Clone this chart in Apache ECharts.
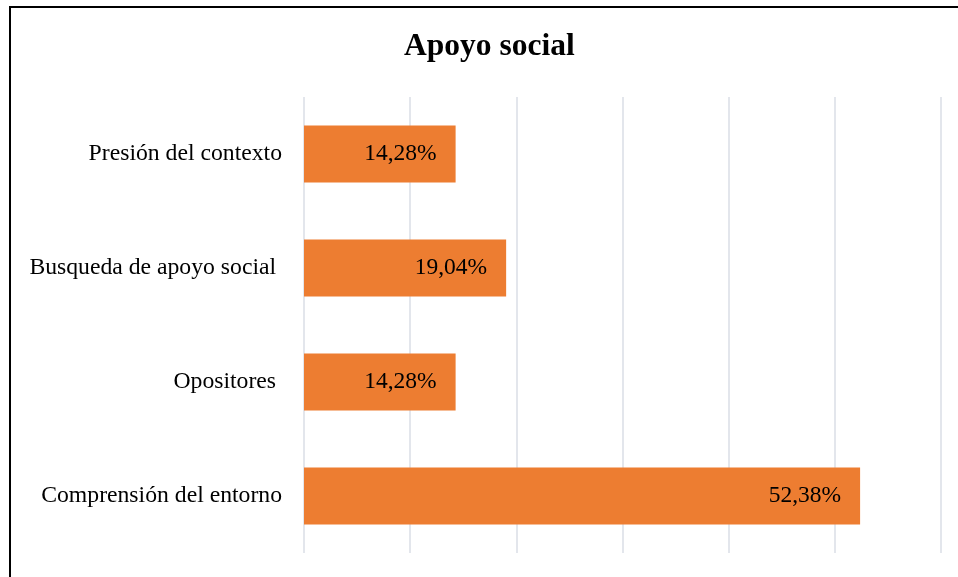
<!DOCTYPE html>
<html>
<head>
<meta charset="utf-8">
<script src="https://cdn.jsdelivr.net/npm/echarts@6/dist/echarts.min.js"></script>
<style>
html,body{margin:0;padding:0;background:#fff;}
#chart{width:958px;height:577px;}
</style>
</head>
<body>
<div id="chart"></div>
<script>
const titleText = "Apoyo social";
const categories = ["Presión del contexto", "Busqueda de apoyo social ", "Opositores ", "Comprensión del entorno"];
const values = [14.28, 19.04, 14.28, 52.38];
const valueLabels = ["14,28%", "19,04%", "14,28%", "52,38%"];

const chart = echarts.init(document.getElementById('chart'), null, {renderer: 'canvas'});
const serif = '"Liberation Serif", "Times New Roman", serif';
chart.setOption({
  animation: false,
  backgroundColor: '#ffffff',
  title: {
    text: titleText,
    left: 404,
    top: 31,
    padding: 0,
    textStyle: {fontFamily: serif, fontWeight: 'bold', fontSize: 31.5, color: '#000'}
  },
  graphic: [{
    type: 'rect',
    shape: {x: 10, y: 7, width: 1000, height: 700},
    style: {fill: 'none', stroke: '#000', lineWidth: 2},
    silent: true
  }],
  grid: {left: 304, right: 17, top: 97, bottom: 24, containLabel: false},
  xAxis: {
    type: 'value', min: 0, max: 60, interval: 10,
    axisLabel: {show: false}, axisLine: {show: false}, axisTick: {show: false},
    splitLine: {show: true, lineStyle: {color: '#dadee6', width: 1.5}}
  },
  yAxis: {
    type: 'category', data: categories, inverse: true,
    axisLine: {show: false}, axisTick: {show: false},
    axisLabel: {margin: 22, fontFamily: serif, fontSize: 23.7, color: '#000', padding: [6, 0, 0, 0]}
  },
  series: [{
    type: 'bar',
    data: values,
    barWidth: '50%',
    itemStyle: {color: '#ED7D31'},
    label: {
      show: true, position: 'insideRight', distance: 19,
      fontFamily: serif, fontSize: 23.5, color: '#000', padding: [6, 0, 0, 0],
      formatter: p => valueLabels[p.dataIndex]
    }
  }]
});
</script>
</body>
</html>
